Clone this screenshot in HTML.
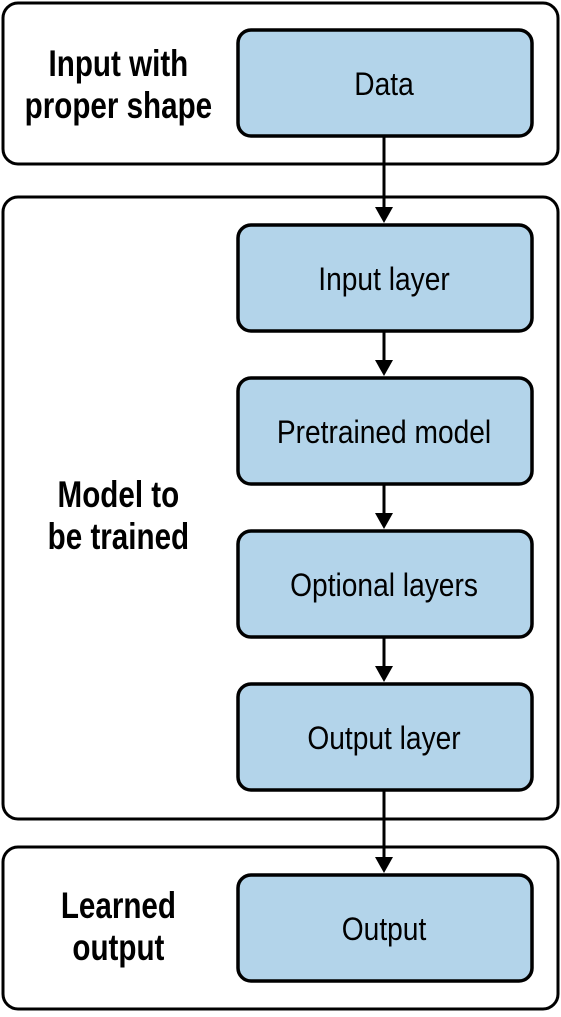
<!DOCTYPE html>
<html><head><style>
body{margin:0;background:#fff;}
svg text{font-family:"Liberation Sans",sans-serif;}
</style></head><body>
<svg width="561" height="1012" viewBox="0 0 561 1012" xmlns="http://www.w3.org/2000/svg">
<g fill="none" stroke="#000" stroke-width="3">
<rect x="3" y="3" width="555" height="161" rx="15"/>
<rect x="3" y="197" width="555" height="622" rx="15"/>
<rect x="3" y="847" width="555" height="162" rx="15"/>
</g>
<g fill="#b3d4ea" stroke="#000" stroke-width="3.5">
<rect x="238" y="30" width="294" height="106" rx="13"/>
<rect x="238" y="225" width="294" height="106" rx="13"/>
<rect x="238" y="378" width="294" height="106" rx="13"/>
<rect x="238" y="531" width="294" height="106" rx="13"/>
<rect x="238" y="684" width="294" height="106" rx="13"/>
<rect x="238" y="875" width="294" height="106" rx="13"/>
</g>
<g stroke="#000" stroke-width="3">
<line x1="384" y1="137" x2="384" y2="208"/>
<line x1="384" y1="332" x2="384" y2="361"/>
<line x1="384" y1="485" x2="384" y2="514"/>
<line x1="384" y1="638" x2="384" y2="667"/>
<line x1="384" y1="791" x2="384" y2="858"/>
</g>
<g fill="#000">
<path d="M375,207 L393,207 L384,223 Z"/>
<path d="M375,360 L393,360 L384,376 Z"/>
<path d="M375,513 L393,513 L384,529 Z"/>
<path d="M375,666 L393,666 L384,682 Z"/>
<path d="M375,857 L393,857 L384,873 Z"/>
</g>
<g font-size="32" text-anchor="middle" fill="#000" transform="scale(0.88,1)">
<text x="436.4" y="95">Data</text>
<text x="436.4" y="290">Input layer</text>
<text x="436.4" y="443">Pretrained model</text>
<text x="436.4" y="596">Optional layers</text>
<text x="436.4" y="749">Output layer</text>
<text x="436.4" y="940">Output</text>
</g>
<g font-size="37" font-weight="bold" text-anchor="middle" fill="#000" transform="scale(0.8,1)">
<text x="148" y="76">Input with</text>
<text x="148" y="118">proper shape</text>
<text x="148" y="507">Model to</text>
<text x="148" y="549">be trained</text>
<text x="148" y="918">Learned</text>
<text x="148" y="960">output</text>
</g>
</svg>
</body></html>
